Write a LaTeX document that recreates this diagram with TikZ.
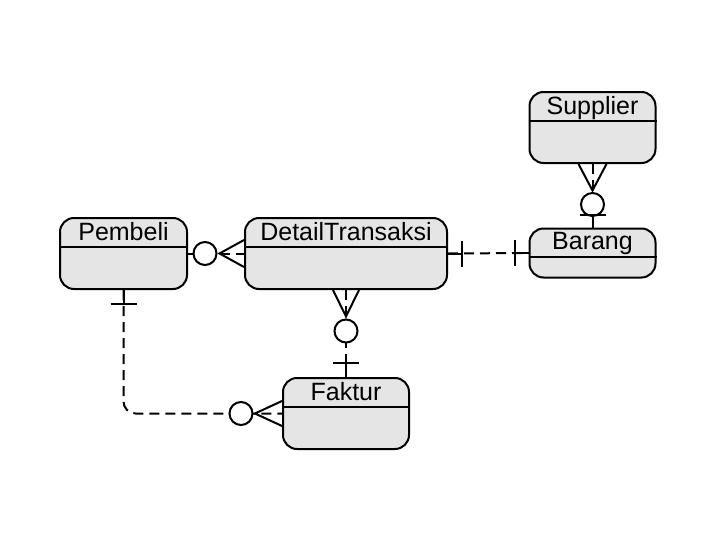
\documentclass[tikz,border=0pt]{standalone}
\usepackage{fontspec}
\setmainfont{Liberation Sans}
\usetikzlibrary{calc}

\begin{document}
\begin{tikzpicture}[
  x=1pt, y=-1pt,
  entity/.style={rectangle, draw, rounded corners=14pt, fill=black!10,
    line width=2pt, inner sep=0pt},
  title/.style={anchor=base, inner sep=0pt, font=\fontsize{25}{30}\selectfont},
  rel/.style={line width=2pt, dash pattern=on 10pt off 6pt},
  sym/.style={line width=2pt},
  circ/.style={circle, draw, fill=white, line width=2pt, minimum size=23pt, inner sep=0pt}
]
\useasboundingbox (0,0) rectangle (716,541);

\node[entity, minimum width=127pt, minimum height=71pt] (pembeli) at (123.5,253.5) {};
\node[entity, minimum width=202pt, minimum height=71pt] (detail) at (346,253.5) {};
\node[entity, minimum width=126pt, minimum height=71pt] (supplier) at (592.5,127.5) {};
\node[entity, minimum width=126pt, minimum height=49pt] (barang) at (592.5,253) {};
\node[entity, minimum width=126pt, minimum height=71pt] (faktur) at (346,413.5) {};

\foreach \e in {pembeli,detail,supplier,barang,faktur}
  \draw[sym] ($(\e.north west)+(0,29.5)$) -- ($(\e.north east)+(0,29.5)$);

\node[title] (pembeli-t) at ($(pembeli.north)+(0,23)$) {Pembeli};
\node[title] (detail-t) at ($(detail.north)+(0,23)$) {DetailTransaksi};
\node[title] (supplier-t) at ($(supplier.north)+(0,23)$) {Supplier};
\node[title] (barang-t) at ($(barang.north)+(0,22)$) {Barang};
\node[title] (faktur-t) at ($(faktur.north)+(0,23)$) {Faktur};

% Pembeli -- DetailTransaksi
\draw[rel] (pembeli.east) -- (detail.west);
\node[circ] (o1) at ($(pembeli.east)+(17,0)$) {};
\draw[sym] ($(detail.west)+(0,-13.5)$) -- ($(o1.east)+(2,0)$) -- ($(detail.west)+(0,13.5)$);

% DetailTransaksi -- Barang
\draw[rel] (detail.east) -- (barang.west);
\draw[sym] (detail.east) -- ++(14,0) ++(0,-13) -- ++(0,26);
\draw[sym] (barang.west) -- ++(-14,0) ++(0,-13) -- ++(0,26);

% Supplier -- Barang
\draw[rel] (supplier.south) -- (barang.north);
\node[circ] (o2) at ($(supplier.south)+(0,40.5)$) {};
\draw[sym] ($(supplier.south)+(-14,0)$) -- ($(o2.north)+(0,-1.5)$) -- ($(supplier.south)+(14,0)$);
\draw[sym] (o2.south) -- (barang.north);
\draw[sym] ($(barang.north)+(-13,-13)$) -- ++(26,0);

% DetailTransaksi -- Faktur
\draw[rel] (detail.south) -- (faktur.north);
\node[circ] (o3) at ($(detail.south)+(0,41)$) {};
\draw[sym] ($(detail.south)+(-13,0)$) -- ($(o3.north)+(0,-2)$) -- ($(detail.south)+(13,0)$);
\draw[sym] (faktur.north) -- ++(0,-14) ++(-13,0) -- ++(26,0);

% Pembeli -- Faktur
\draw[rel, rounded corners=12pt] (pembeli.south) |- (faktur.west);
\node[circ] (o4) at ($(faktur.west)+(-41,0)$) {};
\draw[sym] ($(faktur.west)+(0,-12.5)$) -- ($(o4.east)+(1.5,0)$) -- ($(faktur.west)+(0,12.5)$);
\draw[sym] (pembeli.south) -- ++(0,14) ++(-13,0) -- ++(26,0);
\end{tikzpicture}
\end{document}
